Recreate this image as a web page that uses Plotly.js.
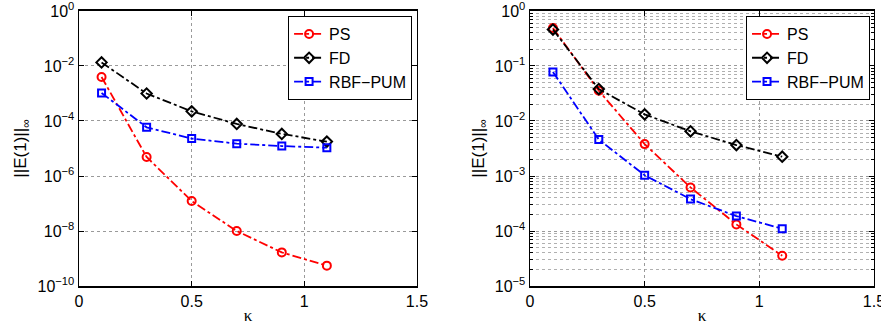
<!DOCTYPE html>
<html>
<head>
<meta charset="utf-8">
<script src="https://cdn.plot.ly/plotly-3.0.1.min.js"></script>
<style>html,body{margin:0;padding:0;background:#fff;}#chart{width:881px;height:328px;}</style>
</head>
<body>
<div id="chart"></div>
<script>
const kappa = [0.1, 0.3, 0.5, 0.7, 0.9, 1.1];
const seriesNames = ['PS', 'FD', 'RBF\u2212PUM'];

// Left panel
const leftPS  = [4.0e-3, 4.9e-6, 1.23e-7, 1.0e-8, 1.67e-9, 5.5e-10];
const leftFD  = [1.35e-2, 1.0e-3, 2.24e-4, 7.8e-5, 3.4e-5, 1.78e-5];
const leftRBF = [1.05e-3, 5.9e-5, 2.3e-5, 1.5e-5, 1.23e-5, 1.07e-5];

// Right panel
const rightPS  = [0.49, 0.0355, 3.8e-3, 6.2e-4, 1.32e-4, 3.55e-5];
const rightFD  = [0.46, 0.038, 1.32e-2, 6.5e-3, 3.65e-3, 2.24e-3];
const rightRBF = [0.078, 4.6e-3, 1.03e-3, 3.8e-4, 1.87e-4, 1.1e-4];

const xTicks = [0, 0.5, 1, 1.5];
const xTickText = ['0', '0.5', '1', '1.5'];
const leftYTicks = [1, 1e-2, 1e-4, 1e-6, 1e-8, 1e-10];
const leftYText = ['10<sup>0</sup>', '10<sup>\u22122</sup>', '10<sup>\u22124</sup>', '10<sup>\u22126</sup>', '10<sup>\u22128</sup>', '10<sup>\u221210</sup>'];
const rightYTicks = [1, 1e-1, 1e-2, 1e-3, 1e-4, 1e-5];
const rightYText = ['10<sup>0</sup>', '10<sup>\u22121</sup>', '10<sup>\u22122</sup>', '10<sup>\u22123</sup>', '10<sup>\u22124</sup>', '10<sup>\u22125</sup>'];

// minor log grid positions for the right panel (2..9 within each decade)
const rightMinor = [];
for (let e = -5; e < 0; e++) {
  for (let m = 2; m <= 9; m++) rightMinor.push(m * Math.pow(10, e));
}

const colors = ['#ff0000', '#000000', '#0000ff'];
const symbols = ['circle-open', 'diamond-open', 'square-open'];
const markerSizes = [8, 8, 7];

function mk(y, i, xa, ya, leg) {
  return {
    x: kappa, y: y, name: seriesNames[i], type: 'scatter', mode: 'lines+markers',
    xaxis: xa, yaxis: ya, legend: leg,
    line: {color: colors[i], width: 1.8, dash: 'dashdot'},
    marker: {symbol: symbols[i], size: markerSizes[i], color: colors[i], line: {width: 2, color: colors[i]}}
  };
}

const data = [
  mk(leftPS, 0, 'x', 'y', 'legend'),
  mk(leftFD, 1, 'x', 'y', 'legend'),
  mk(leftRBF, 2, 'x', 'y', 'legend'),
  mk(rightPS, 0, 'x2', 'y2', 'legend2'),
  mk(rightFD, 1, 'x2', 'y2', 'legend2'),
  mk(rightRBF, 2, 'x2', 'y2', 'legend2')
];

const font = {family: 'Liberation Sans, Arial, sans-serif', size: 16, color: '#000'};
const titleFont = {family: 'Liberation Sans, Arial, sans-serif', size: 17, color: '#000'};
const gridc = '#9a9a9a';

function xax(dom, anchor) {
  return {
    domain: dom, anchor: anchor, range: [0, 1.5], tickvals: xTicks, ticktext: xTickText,
    ticks: 'inside', ticklen: 5, tickcolor: '#000', mirror: 'ticks', showline: true, linecolor: '#000', linewidth: 1.5,
    showgrid: true, gridcolor: gridc, griddash: 'dot', gridwidth: 1, zeroline: false,
    ticklabeloverflow: 'allow',
    title: {text: '\u03ba', font: {family: 'Liberation Serif, serif', size: 17}, standoff: 0},
    tickfont: font
  };
}

const layout = {
  width: 881, height: 328,
  margin: {l: 0, r: 0, t: 0, b: 0},
  paper_bgcolor: '#fff', plot_bgcolor: '#fff',
  font: font,
  showlegend: true,
  xaxis: xax([0.0897, 0.4733], 'y'),
  xaxis2: xax([0.6016, 0.992], 'y2'),
  yaxis: {
    domain: [0.128, 0.9665], anchor: 'x', type: 'log', range: [-10, 0],
    tickvals: leftYTicks, ticktext: leftYText,
    ticks: 'inside', ticklen: 5, tickcolor: '#000', mirror: 'ticks', showline: true, linecolor: '#000', linewidth: 1.5,
    showgrid: true, gridcolor: gridc, griddash: 'dot', zeroline: false, tickfont: font,
    ticklabeloverflow: 'allow',
    title: {text: '||E(1)||<sub>\u221e</sub>', font: titleFont, standoff: 6}
  },
  yaxis2: {
    domain: [0.128, 0.9665], anchor: 'x2', type: 'log', range: [-5, 0],
    tickvals: rightYTicks, ticktext: rightYText,
    ticks: 'inside', ticklen: 5, tickcolor: '#000', mirror: 'ticks', showline: true, linecolor: '#000', linewidth: 1.5,
    showgrid: true, gridcolor: gridc, griddash: 'dot', zeroline: false, tickfont: font,
    ticklabeloverflow: 'allow',
    minor: {tickmode: 'array', tickvals: rightMinor, ticks: 'inside', ticklen: 3, tickcolor: '#000',
            showgrid: true, gridcolor: '#b0b0b0', griddash: 'dot', gridwidth: 1},
    title: {text: '||E(1)||<sub>\u221e</sub>', font: titleFont, standoff: 6}
  },
  legend: {
    x: 0.327, y: 0.951, xanchor: 'left', yanchor: 'top', bgcolor: '#fff',
    bordercolor: '#000', borderwidth: 1, font: {family: 'Liberation Sans, Arial, sans-serif', size: 16}, tracegroupgap: 0
  },
  legend2: {
    x: 0.8468, y: 0.951, xanchor: 'left', yanchor: 'top', bgcolor: '#fff',
    bordercolor: '#000', borderwidth: 1, font: {family: 'Liberation Sans, Arial, sans-serif', size: 16}, tracegroupgap: 0
  }
};

Plotly.newPlot('chart', data, layout, {displayModeBar: false, staticPlot: true});
</script>
</body>
</html>
